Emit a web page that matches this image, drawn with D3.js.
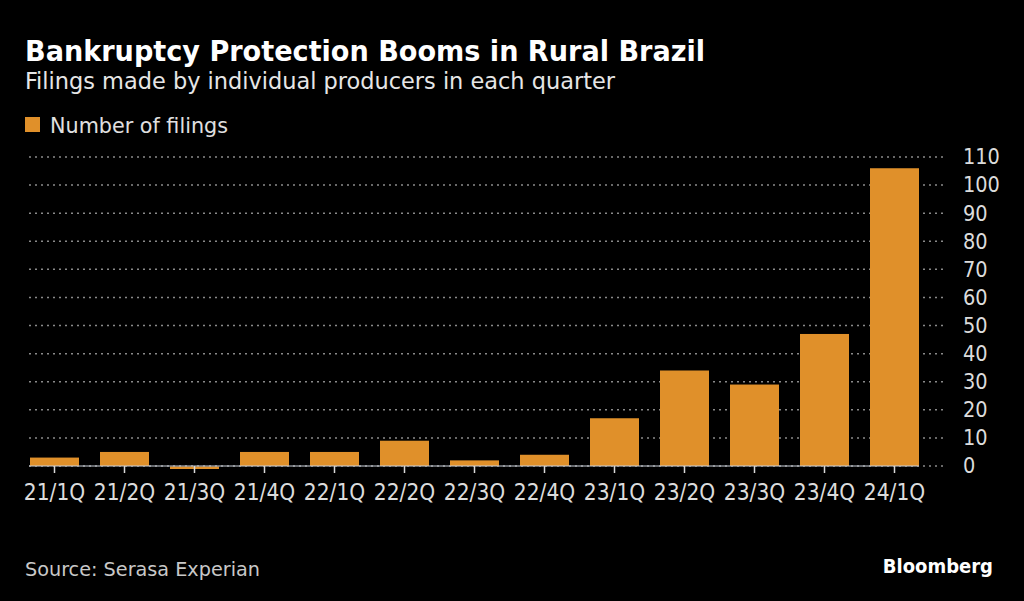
<!DOCTYPE html>
<html>
<head>
<meta charset="utf-8">
<script src="https://cdn.jsdelivr.net/npm/d3@7"></script>
<style>
  html, body { margin: 0; padding: 0; background: #000; }
  svg { display: block; }
  text { font-family: "DejaVu Sans Condensed", "DejaVu Sans", sans-serif; }
</style>
</head>
<body>
<svg id="chart" width="1024" height="601"></svg>
<script>
const categories = ["21/1Q","21/2Q","21/3Q","21/4Q","22/1Q","22/2Q","22/3Q","22/4Q","23/1Q","23/2Q","23/3Q","23/4Q","24/1Q"];
const filings = [3, 5, 0, 5, 5, 9, 2, 4, 17, 34, 29, 47, 106];
const yTicks = [0, 10, 20, 30, 40, 50, 60, 70, 80, 90, 100, 110];
const titleText = "Bankruptcy Protection Booms in Rural Brazil";
const subtitleText = "Filings made by individual producers in each quarter";
const legendLabel = "Number of filings";
const sourceText = "Source: Serasa Experian";

const W = 1024, H = 601;
const svg = d3.select("#chart");
svg.append("rect").attr("width", W).attr("height", H).attr("fill", "#000");

const barColor = "#e0902a";

const x = d3.scaleBand().domain(categories).range([19.5, 929.5]).paddingInner(0.3).paddingOuter(0.15);
const y = d3.scaleLinear().domain([0, 110]).range([466, 157]);

// Title & subtitle
svg.append("text").attr("x", 25).attr("y", 61)
  .attr("fill", "#fff").attr("font-size", 28).attr("font-weight", "bold")
  .attr("textLength", 680).attr("lengthAdjust", "spacingAndGlyphs")
  .text(titleText);
svg.append("text").attr("x", 25).attr("y", 89)
  .attr("fill", "#e6e6e6").attr("font-size", 22.5)
  .attr("textLength", 590).attr("lengthAdjust", "spacingAndGlyphs")
  .text(subtitleText);

// Legend
svg.append("rect").attr("x", 25).attr("y", 117).attr("width", 15).attr("height", 15).attr("fill", barColor);
svg.append("text").attr("x", 50).attr("y", 133)
  .attr("fill", "#e0e0e0").attr("font-size", 20.5)
  .attr("textLength", 178).attr("lengthAdjust", "spacingAndGlyphs")
  .text(legendLabel);

// Gridlines
svg.append("g").selectAll("line").data(yTicks).join("line")
  .attr("x1", 29).attr("x2", 946)
  .attr("y1", d => y(d)).attr("y2", d => y(d))
  .attr("stroke", "#8a8a8a").attr("stroke-width", 1.5)
  .attr("stroke-dasharray", "2,4");

// Bars
svg.append("g").selectAll("rect").data(categories).join("rect")
  .attr("x", d => x(d))
  .attr("width", x.bandwidth())
  .attr("y", (d, i) => filings[i] > 0 ? y(filings[i]) : y(0) + 0.5)
  .attr("height", (d, i) => Math.max(2.5, y(0) - y(filings[i])))
  .attr("fill", barColor);

// Baseline
svg.append("line")
  .attr("x1", 29).attr("x2", x(categories[categories.length - 1]) + x.bandwidth())
  .attr("y1", y(0)).attr("y2", y(0))
  .attr("stroke", "#c9d0da").attr("stroke-width", 1.2);

// X axis
const xAxis = d3.axisBottom(x).tickSize(7).tickPadding(11);
const gx = svg.append("g").attr("transform", `translate(0,${y(0)})`).call(xAxis);
gx.select(".domain").remove();
gx.selectAll(".tick line").attr("stroke", "#d8d8d8").attr("stroke-width", 1.5);
gx.selectAll(".tick text").attr("fill", "#dcdcdc").attr("font-size", 22.5)
  .attr("font-family", "\"DejaVu Sans Condensed\", \"DejaVu Sans\", sans-serif");

// Y axis labels
const yAxis = d3.axisRight(y).tickValues(yTicks).tickSize(0).tickPadding(0);
const gy = svg.append("g").attr("transform", "translate(963,0)").call(yAxis);
gy.select(".domain").remove();
gy.selectAll(".tick text").attr("fill", "#dcdcdc").attr("font-size", 21.5)
  .attr("font-family", "\"DejaVu Sans Condensed\", \"DejaVu Sans\", sans-serif");

// Footer
svg.append("text").attr("x", 25).attr("y", 576)
  .attr("fill", "#c8c8c8").attr("font-size", 19.5)
  .attr("textLength", 235).attr("lengthAdjust", "spacingAndGlyphs")
  .text(sourceText);
svg.append("text").attr("x", 993).attr("y", 573).attr("text-anchor", "end")
  .attr("fill", "#fff").attr("font-size", 20).attr("font-weight", "bold")
  .attr("font-family", "\"Liberation Sans\", Arial, sans-serif")
  .text("Bloomberg");
</script>
</body>
</html>
